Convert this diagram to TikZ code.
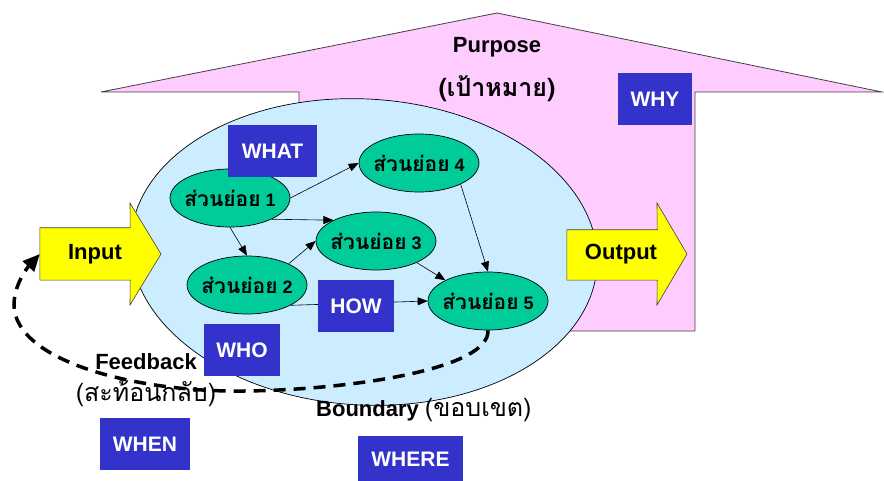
\documentclass[tikz,border=0pt]{standalone}
\usepackage{fontspec}
\setmainfont{Liberation Sans}
\newfontfamily\thai[Script=Thai]{Loma}
\usetikzlibrary{arrows.meta,shapes.geometric}
\definecolor{purposepink}{HTML}{FFCCFF}
\definecolor{systemblue}{HTML}{CCECFF}
\definecolor{partgreen}{HTML}{00CC99}
\definecolor{qblue}{HTML}{3333CC}
\definecolor{ioyellow}{HTML}{FFFF00}
\definecolor{edgegray}{HTML}{404040}
% subsystem label; zero-width box keeps every ellipse at its set size
\newcommand{\subpart}[1]{\makebox[0pt]{{\fontsize{21}{24}\selectfont\thai\bfseries ส่วนย่อย}~#1}}
\begin{document}
\begin{tikzpicture}[x=1pt,y=-1pt,
  lbl/.style={font=\fontsize{22}{26}\selectfont\bfseries, inner sep=0pt},
  thailbl/.style={font=\fontsize{25}{28}\selectfont\thai, inner sep=0pt},
  qbox/.style={fill=qblue, text=white, inner sep=0pt, minimum height=52pt,
    font=\fontsize{21}{24}\selectfont\bfseries},
  part/.style={ellipse, draw=black, line width=0.7pt, fill=partgreen,
    minimum width=120pt, minimum height=58pt, inner sep=0pt,
    font=\fontsize{18}{20}\selectfont\bfseries},
  flow/.style={-{Triangle[length=10pt,width=8pt]}, line width=0.6pt},
  ioshape/.style={fill=ioyellow, draw=edgegray, line width=0.6pt, line join=miter}
]
\useasboundingbox (0,0) rectangle (884,481);

% purpose arrow pointing upward
\path[fill=purposepink, draw=edgegray, line width=0.8pt]
  (101,92) -- (497,13) -- (882,92) -- (695,92) -- (695,331)
  -- (299,331) -- (299,92) -- cycle;

% system boundary
\node[ellipse, draw=black, line width=0.7pt, fill=systemblue,
  minimum width=467pt, minimum height=306pt, inner sep=0pt, rotate=-3.4]
  (boundary) at (364,252) {};

% input and output arrows
\node[inner sep=0pt, minimum width=90pt, minimum height=52pt] (input) at (85,254) {};
\path[ioshape] (input.north west) -- (input.north east) -- (130,203) -- (161,254)
  -- (130,305) -- (input.south east) -- (input.south west) -- cycle;
\node[lbl] (inputtext) at (95,254) {Input};

\node[inner sep=0pt, minimum width=90pt, minimum height=50pt] (output) at (612,255) {};
\path[ioshape] (output.north west) -- (output.north east) -- (657,203) -- (687,254)
  -- (657,305) -- (output.south east) -- (output.south west) -- cycle;
\node[lbl] (outputtext) at (621,254) {Output};

% subsystems
\node[part] (e1) at (230,198) {\subpart{1}};
\node[part] (e2) at (247,285) {\subpart{2}};
\node[part] (e3) at (376,241) {\subpart{3}};
\node[part] (e4) at (419,163) {\subpart{4}};
\node[part] (e5) at (488,301) {\subpart{5}};

\draw[flow] (e1.east) -- (e4.west);
\draw[flow] (e1.-27) -- (e3.154);
\draw[flow] (e1.south) -- (e2.north);
\draw[flow] (e2.27) -- (e3.west);
\draw[flow] (e2.-25) -- (e5.west);
\draw[flow] (e3.-28) -- (e5.154);
\draw[flow] (e4.-27) -- (e5.north);

% question boxes
\node[qbox, minimum width=89pt] (what) at (272.5,151) {WHAT};
\node[qbox, minimum width=74pt] (why) at (655,99) {WHY};
\node[qbox, minimum width=76pt] (how) at (356,306) {HOW};
\node[qbox, minimum width=76pt] (who) at (242,350) {WHO};
\node[qbox, minimum width=90pt] (when) at (145,444) {WHEN};
\node[qbox, minimum width=105pt, minimum height=46pt] (where) at (410.5,459) {WHERE};

% labels
\node[lbl] (purpose) at (497,47) {Purpose};
\node[thailbl, font=\fontsize{25}{28}\selectfont\thai\bfseries] (purposeth) at (497,89) {(เป้าหมาย)};
\node[lbl] (feedback) at (146,362) {Feedback};
\node[thailbl] (feedbackth) at (146,394) {(สะท้อนกลับ)};
\node[lbl, anchor=west] (boundarylbl) at (316,410) {Boundary {\fontsize{25}{28}\selectfont\thai\mdseries (ขอบเขต)}};

% feedback loop
\coordinate (fb1) at (230,391);
\coordinate (fb2) at (14,305);
\draw[line width=3.5pt, dash pattern=on 12pt off 8pt,
  -{Triangle[length=17pt,width=15pt]}]
  (e5.south) .. controls (490,372) and (330,392) .. (fb1)
  .. controls (130,390) and (15,360) .. (fb2)
  .. controls (14,285) and (27,268) .. (input.west);
\end{tikzpicture}
\end{document}
